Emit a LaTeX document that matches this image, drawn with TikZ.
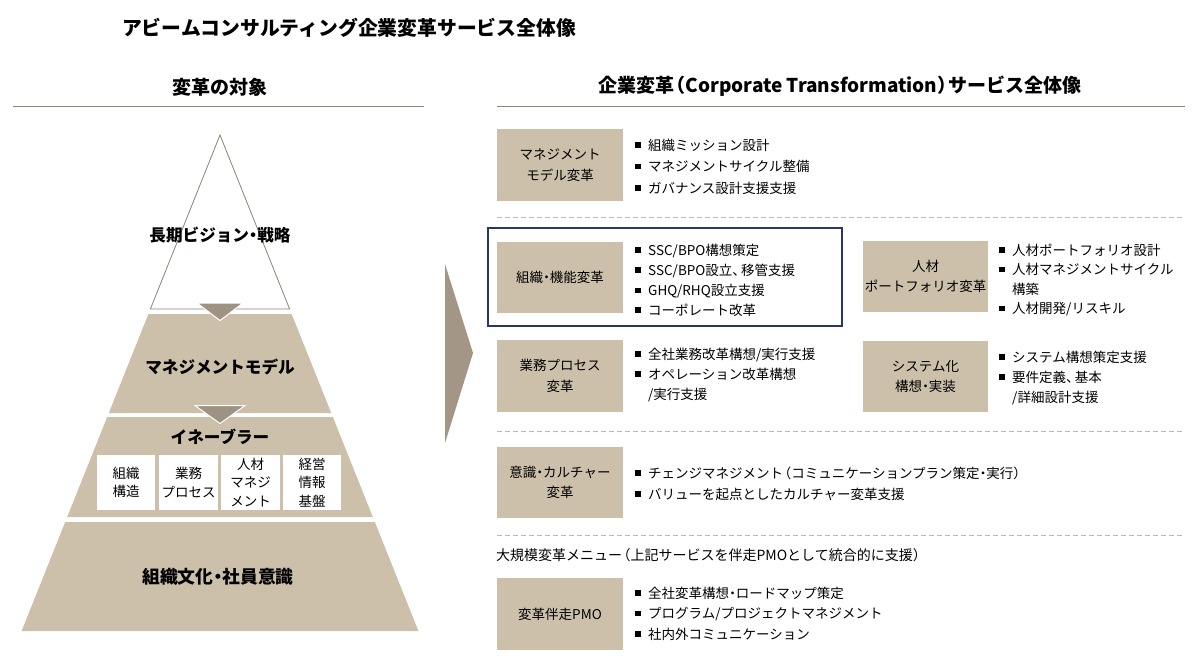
\documentclass[tikz,border=0pt]{standalone}
\usepackage{fontspec}
\setmainfont{Noto Sans CJK JP}
\definecolor{tanc}{RGB}{204,192,170}
\definecolor{arrowc}{RGB}{158,146,130}
\definecolor{bigarrowc}{RGB}{163,150,134}
\definecolor{outlinec}{RGB}{140,128,115}
\definecolor{rulec}{RGB}{140,132,118}
\definecolor{dashc}{RGB}{185,185,185}
\definecolor{navyc}{RGB}{40,55,100}
\newcommand\nk{\kern-0.25em・\kern-0.25em}
\newcommand\lp{\kern-0.4em（}
\newcommand\rp{）\kern-0.4em}
\newcommand\tc{、\kern-0.35em}
\newcommand\bitem[4]{\node[itemtxt] (#1) at (#2,#3+5.1) {\rule[2.3pt]{5.5pt}{5.5pt}\hspace{7.5pt}#4};}
\newcommand\citem[4]{\node[itemtxt] (#1) at (#2,#3+5.1) {#4};}
\begin{document}
\begin{tikzpicture}[x=1pt,y=-1pt,
  itemtxt/.style={anchor=base west, inner sep=0, font=\fontsize{13.5}{16}\selectfont},
  tbox/.style={fill=tanc, inner sep=0, align=center, minimum width=126, minimum height=71, font=\fontsize{13.5}{20.5}\selectfont},
  ebox/.style={fill=white, inner sep=0, align=center, minimum width=58.5, minimum height=55, font=\fontsize{13.5}{18.5}\selectfont},
  headtxt/.style={font=\bfseries\fontsize{19}{22}\selectfont, inner sep=0},
  pyrtxt/.style={font=\bfseries\fontsize{16.6}{20}\selectfont, inner sep=0},
  hrule/.style={draw=rulec, line width=1pt},
  dline/.style={draw=dashc, line width=0.9pt, dash pattern=on 5pt off 3pt},
  downarrow/.style={fill=arrowc, draw=white, line width=1pt, line join=miter}
]
\useasboundingbox (0,0) rectangle (1200,664);
\fill[white] (0,0) rectangle (1200,664);

% titles
\node[headtxt, font=\bfseries\fontsize{19.8}{22}\selectfont] (title) at (349,28) {アビームコンサルティング企業変革サービス全体像};
\node[headtxt] (lhead) at (220,87) {変革の対象};
\node[headtxt] (rhead) at (840,86) {企業変革\lp Corporate Transformation\rp サービス全体像};
\coordinate (lr1) at (13,106); \coordinate (lr2) at (424,106);
\coordinate (rr1) at (497,106); \coordinate (rr2) at (1185,106);
\draw[hrule] (lr1) -- (lr2);
\draw[hrule] (rr1) -- (rr2);

% pyramid
\filldraw[fill=white, draw=outlinec, line width=0.8pt] (220,135) -- (289.6,309) -- (150.4,309) -- cycle;
\fill[tanc] (148.4,314) -- (291.6,314) -- (331.2,413) -- (108.8,413) -- cycle;
\fill[tanc] (107.2,417) -- (332.8,417) -- (372.8,517) -- (67.2,517) -- cycle;
\fill[tanc] (65.2,522) -- (374.8,522) -- (418.4,631) -- (21.6,631) -- cycle;
\filldraw[downarrow] (197,303) -- (243,303) -- (220,320.5) -- cycle;
\filldraw[downarrow] (195,405.5) -- (245,405.5) -- (220,423.5) -- cycle;

\node[pyrtxt] (vision) at (220,235) {長期ビジョン\nk 戦略};
\node[pyrtxt] (mgmt) at (220,367) {マネジメントモデル};
\node[pyrtxt] (enabler) at (220,437) {イネーブラー};
\node[pyrtxt, font=\bfseries\fontsize{17.8}{20}\selectfont] (culture) at (218,577) {組織文化\nk 社員意識};

\node[ebox] (e1) at (126,482.5) {組織\\構造};
\node[ebox] (e2) at (188.5,482.5) {業務\\プロセス};
\node[ebox] (e3) at (250.5,482.5) {人材\\マネジ\\メント};
\node[ebox] (e4) at (312,482.5) {経営\\情報\\基盤};

% big arrow
\fill[bigarrowc] (445,264) -- (473,353) -- (445,443) -- cycle;

% dashed separators
\coordinate (d1a) at (497,217); \coordinate (d1b) at (1185,217);
\coordinate (d2a) at (497,431); \coordinate (d2b) at (1185,431);
\coordinate (d3a) at (497,535); \coordinate (d3b) at (1185,535);
\draw[dline] (d1a) -- (d1b);
\draw[dline] (d2a) -- (d2b);
\draw[dline] (d3a) -- (d3b);

% highlight frame
\draw[navyc, line width=1.3pt] (488,228) rectangle (842,326);

% service boxes
\node[tbox, minimum height=72] (b1) at (560,165) {マネジメント\\モデル変革};
\node[tbox] (b2) at (560,277.5) {組織\nk 機能変革};
\node[tbox, minimum width=125] (b3) at (925.5,276.5) {人材\\ポートフォリオ変革};
\node[tbox, minimum height=72] (b4) at (560,376) {業務プロセス\\変革};
\node[tbox, minimum width=125] (b5) at (925.5,376.5) {システム化\\構想\nk 実装};
\node[tbox] (b6) at (560,482.5) {意識\nk カルチャー\\変革};
\node[tbox, minimum height=72] (b7) at (560,614) {変革伴走PMO};

% bullet lists
\bitem{i11}{635}{145}{組織ミッション設計}
\bitem{i12}{635}{166.5}{マネジメントサイクル整備}
\bitem{i13}{635}{188}{ガバナンス設計支援支援}

\bitem{i21}{635}{250}{SSC/BPO構想策定}
\bitem{i22}{635}{270}{SSC/BPO設立\tc 移管支援}
\bitem{i23}{635}{290.5}{GHQ/RHQ設立支援}
\bitem{i24}{635}{310}{コーポレート改革}

\bitem{i31}{999}{250}{人材ポートフォリオ設計}
\bitem{i32}{999}{269.5}{人材マネジメントサイクル}
\citem{i33}{1012}{289}{構築}
\bitem{i34}{999}{308.5}{人材開発/リスキル}

\bitem{i41}{635}{354}{全社業務改革構想/実行支援}
\bitem{i42}{635}{374}{オペレーション改革構想}
\citem{i43}{648}{394.5}{/実行支援}

\bitem{i51}{999}{357}{システム構想策定支援}
\bitem{i52}{999}{377}{要件定義\tc 基本}
\citem{i53}{1012}{397}{/詳細設計支援}

\bitem{i61}{635}{473}{チェンジマネジメント\lp コミュニケーションプラン策定\nk 実行\rp}
\bitem{i62}{635}{494}{バリューを起点としたカルチャー変革支援}

\node[itemtxt, font=\fontsize{14}{16}\selectfont] (menu) at (496,555+5.3) {大規模変革メニュー\lp 上記サービスを伴走PMOとして統合的に支援\rp};

\bitem{i71}{635}{593}{全社変革構想\nk ロードマップ策定}
\bitem{i72}{635}{613.5}{プログラム/プロジェクトマネジメント}
\bitem{i73}{635}{634}{社内外コミュニケーション}
\end{tikzpicture}
\end{document}
